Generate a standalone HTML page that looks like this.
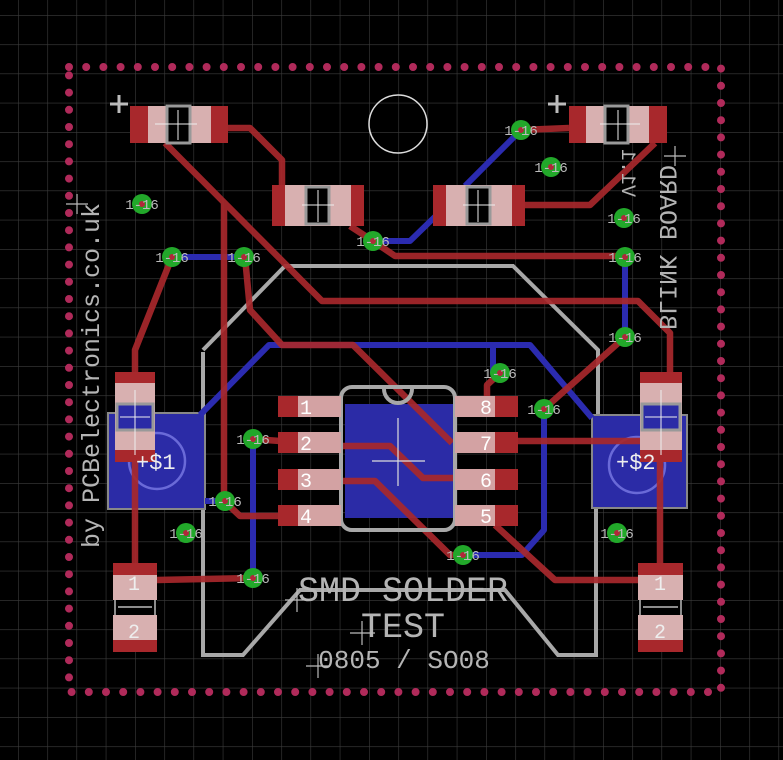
<!DOCTYPE html>
<html><head><meta charset="utf-8"><style>
html,body{margin:0;padding:0;background:#000;}
svg{display:block;}
text{font-family:"Liberation Mono",monospace;}
</style></head><body>
<svg width="783" height="760" viewBox="0 0 783 760" xmlns="http://www.w3.org/2000/svg">
<defs>
<pattern id="g" x="18" y="15" width="29.25" height="29.25" patternUnits="userSpaceOnUse">
<path d="M0 0H29.25M0 0V29.25" stroke="#3c3c3c" stroke-width="1.2" fill="none"/>
</pattern>
</defs>
<rect width="783" height="760" fill="#000"/>
<rect width="783" height="760" fill="url(#g)"/>

<rect x="69" y="67" width="652" height="625" fill="none" stroke="#b02a5a" stroke-width="8" stroke-dasharray="0 17.2" stroke-linecap="round"/>

<g fill="none" stroke="#a8a8a8" stroke-width="4">
<path d="M203 352 L203 655 L243 655 L300 590 L505 590 L558 655 L596 655 L596 508 M598 415 L598 350 L513 266 L285 266 L203 350"/>
<circle cx="398" cy="124" r="29" stroke="#ddd" stroke-width="1.5"/>
</g>

<g>
<rect x="108" y="413" width="97" height="96" fill="#2b2ba6" stroke="#888" stroke-width="2"/>
<rect x="592" y="415" width="95" height="93" fill="#2b2ba6" stroke="#888" stroke-width="2"/>
<circle cx="157" cy="461" r="28" fill="none" stroke="#6a6ad8" stroke-width="2.5"/>
<circle cx="637" cy="465" r="28" fill="none" stroke="#6a6ad8" stroke-width="2.5"/>
</g>

<g fill="none" stroke="#2b2bb0" stroke-width="6" stroke-linejoin="round">
<path d="M172 257 L242 257"/>
<path d="M200 415 L269 345 L530 345 L592 418"/>
<path d="M493 345 L493 373"/>
<path d="M544 409 L544 530 L522 555 L463 555"/>
<path d="M253 439 L253 578"/>
<path d="M205 501 L225 501"/>
<path d="M625 257 L625 337"/>
<path d="M373 241 L410 241 L445 207"/>
<path d="M465 186 L521 130"/>
</g>

<rect x="345" y="404" width="108" height="114" fill="#2b2ba6"/>

<g fill="none" stroke="#a8282c" stroke-width="6.5" stroke-linejoin="round" opacity="0.92">
<path d="M228 128 L250 128 L282 160 L282 186"/>
<path d="M165 143 L322 301 L638 301 L670 333 L670 372"/>
<path d="M224 203 L224 501 L240 516 L280 516"/>
<path d="M245 257 L250 310 L282 345 L353 345 L452 443"/>
<path d="M172 257 L135 350 L135 372"/>
<path d="M135 460 L135 565"/>
<path d="M157 580 L253 578"/>
<path d="M253 439 L280 441"/>
<path d="M341 446 L390 446 L423 478 L456 478"/>
<path d="M341 481 L375 481 L450 555 L463 555"/>
<path d="M495 525 L555 580 L640 580"/>
<path d="M518 441 L645 441"/>
<path d="M544 409 L625 337"/>
<path d="M660 460 L660 565"/>
<path d="M500 373 L487 385 L487 398"/>
<path d="M569 128 L521 130"/>
<path d="M525 205 L590 205 L655 143"/>
<path d="M350 226 L373 241 L395 256 L625 256"/>
</g>

<g fill="none" stroke="#a8a8a8" stroke-width="4">
<rect x="341" y="387" width="114" height="143" rx="11"/>
<path d="M384 389 A14 14 0 0 0 412 389"/>
</g>
<g stroke="#ddd" stroke-width="1.2"><path d="M398 418V486M372 461H425"/></g>

<g>
<g fill="#a8282c">
<rect x="278" y="396" width="63" height="21"/><rect x="278" y="432" width="63" height="21"/>
<rect x="278" y="469" width="63" height="21"/><rect x="278" y="505" width="63" height="21"/>
<rect x="455" y="396" width="63" height="21"/><rect x="455" y="432" width="63" height="21"/>
<rect x="455" y="469" width="63" height="21"/><rect x="455" y="505" width="63" height="21"/>
</g>
<g fill="#d8b0b0" opacity="0.9">
<rect x="298" y="396" width="43" height="21"/><rect x="298" y="432" width="43" height="21"/>
<rect x="298" y="469" width="43" height="21"/><rect x="298" y="505" width="43" height="21"/>
<rect x="455" y="396" width="40" height="21"/><rect x="455" y="432" width="40" height="21"/>
<rect x="455" y="469" width="40" height="21"/><rect x="455" y="505" width="40" height="21"/>
</g>
<g fill="#fff" font-size="20" text-anchor="middle">
<text x="306" y="414">1</text><text x="306" y="450">2</text><text x="306" y="487">3</text><text x="306" y="523">4</text>
<text x="486" y="414">8</text><text x="486" y="450">7</text><text x="486" y="487">6</text><text x="486" y="523">5</text>
</g>
</g>

<g>
<rect x="130" y="106" width="98" height="37" fill="#a8282c"/>
<rect x="148" y="106" width="63" height="37" fill="#d8b0b0"/>
<rect x="167" y="106" width="23" height="37" fill="#000" stroke="#999" stroke-width="3"/>
<path d="M155 124H197M178 110V140" stroke="#eee" stroke-width="1"/>
<rect x="569" y="106" width="98" height="37" fill="#a8282c"/>
<rect x="586" y="106" width="63" height="37" fill="#d8b0b0"/>
<rect x="605" y="106" width="23" height="37" fill="#000" stroke="#999" stroke-width="3"/>
<path d="M600 124H640M618 110V140" stroke="#eee" stroke-width="1"/>
<rect x="272" y="185" width="92" height="41" fill="#a8282c"/>
<rect x="285" y="185" width="66" height="41" fill="#d8b0b0"/>
<rect x="306" y="187" width="23" height="37" fill="#000" stroke="#999" stroke-width="3"/>
<path d="M302 205H334M318 190V222" stroke="#eee" stroke-width="1"/>
<rect x="433" y="185" width="92" height="41" fill="#a8282c"/>
<rect x="446" y="185" width="66" height="41" fill="#d8b0b0"/>
<rect x="467" y="187" width="23" height="37" fill="#000" stroke="#999" stroke-width="3"/>
<path d="M463 205H495M478 190V222" stroke="#eee" stroke-width="1"/>
</g>
<g stroke="#bbb" stroke-width="3"><path d="M110 104H128M119 95V113M548 104H566M557 95V113"/></g>

<g>
<rect x="115" y="372" width="40" height="90" fill="#a8282c"/>
<rect x="115" y="383" width="40" height="67" fill="#d8b0b0"/>
<rect x="117" y="404" width="36" height="26" fill="#2b2ba6" stroke="#999" stroke-width="3"/>
<path d="M120 417H150M135 390V455" stroke="#eee"/>
<rect x="640" y="372" width="42" height="90" fill="#a8282c"/>
<rect x="640" y="383" width="42" height="67" fill="#d8b0b0"/>
<rect x="642" y="404" width="38" height="26" fill="#2b2ba6" stroke="#999" stroke-width="3"/>
<path d="M645 417H677M661 390V455" stroke="#eee"/>

<rect x="113" y="563" width="44" height="89" fill="#a8282c"/>
<rect x="113" y="575" width="44" height="25" fill="#d8b0b0"/>
<rect x="113" y="615" width="44" height="25" fill="#d8b0b0"/>
<rect x="113" y="600" width="44" height="15" fill="#000"/>
<path d="M115 600V615M155 600V615M118 607H152" stroke="#bbb" stroke-width="1.5"/>
<rect x="638" y="563" width="45" height="89" fill="#a8282c"/>
<rect x="638" y="575" width="45" height="25" fill="#d8b0b0"/>
<rect x="638" y="615" width="45" height="25" fill="#d8b0b0"/>
<rect x="638" y="600" width="45" height="15" fill="#000"/>
<path d="M640 600V615M681 600V615M643 607H678" stroke="#bbb" stroke-width="1.5"/>
<g fill="#eee" font-size="20" text-anchor="middle">
<text x="134" y="590">1</text><text x="134" y="638">2</text>
<text x="660" y="590">1</text><text x="660" y="638">2</text>
</g>
</g>

<g fill="#eee" font-family="Liberation Sans,sans-serif" font-size="22">
<text x="136" y="469">+$1</text>
<text x="616" y="469">+$2</text>
</g>

<g>
<g fill="#22a82a">
<circle cx="142" cy="204" r="10"/><circle cx="172" cy="257" r="10"/><circle cx="244" cy="257" r="10"/>
<circle cx="373" cy="241" r="10"/><circle cx="521" cy="130" r="10"/><circle cx="551" cy="167" r="10"/>
<circle cx="624" cy="218" r="10"/><circle cx="625" cy="257" r="10"/><circle cx="625" cy="337" r="10"/>
<circle cx="500" cy="373" r="10"/><circle cx="544" cy="409" r="10"/><circle cx="253" cy="439" r="10"/>
<circle cx="225" cy="501" r="10"/><circle cx="186" cy="533" r="10"/><circle cx="253" cy="578" r="10"/>
<circle cx="463" cy="555" r="10"/><circle cx="617" cy="533" r="10"/>
</g>
<g fill="#b0283a">
<circle cx="142" cy="204" r="3"/><circle cx="172" cy="257" r="3"/><circle cx="244" cy="257" r="3"/>
<circle cx="373" cy="241" r="3"/><circle cx="521" cy="130" r="3"/><circle cx="551" cy="167" r="3"/>
<circle cx="624" cy="218" r="3"/><circle cx="625" cy="257" r="3"/><circle cx="625" cy="337" r="3"/>
<circle cx="500" cy="373" r="3"/><circle cx="544" cy="409" r="3"/><circle cx="253" cy="439" r="3"/>
<circle cx="225" cy="501" r="3"/><circle cx="186" cy="533" r="3"/><circle cx="253" cy="578" r="3"/>
<circle cx="463" cy="555" r="3"/><circle cx="617" cy="533" r="3"/>
</g>
<g fill="#bbb" font-size="14" text-anchor="middle" font-family="Liberation Sans,sans-serif">
<text x="142" y="209">1-16</text><text x="172" y="262">1-16</text><text x="244" y="262">1-16</text>
<text x="373" y="246">1-16</text><text x="521" y="135">1-16</text><text x="551" y="172">1-16</text>
<text x="624" y="223">1-16</text><text x="625" y="262">1-16</text><text x="625" y="342">1-16</text>
<text x="500" y="378">1-16</text><text x="544" y="414">1-16</text><text x="253" y="444">1-16</text>
<text x="225" y="506">1-16</text><text x="186" y="538">1-16</text><text x="253" y="583">1-16</text>
<text x="463" y="560">1-16</text><text x="617" y="538">1-16</text>
</g>
</g>

<g fill="#b4b4b4" text-anchor="middle">
<text x="403" y="601" font-size="35">SMD SOLDER</text>
<text x="403" y="637" font-size="35">TEST</text>
<text x="404" y="668" font-size="26">0805 / SO08</text>
</g>
<g stroke="#bbb" stroke-width="1.2"><path d="M285 600H310M297 588V612M350 633H375M362 621V645M306 666H330M318 654V678"/></g>
<text transform="translate(99,548) rotate(-90)" fill="#b4b4b4" font-size="25">by PCBelectronics.co.uk</text>
<text transform="matrix(0,-1,-1,0,660,330)" fill="#b4b4b4" font-size="25">BLINK BOARD</text>
<text transform="matrix(0,-1,-1,0,622,197)" fill="#b4b4b4" font-size="20">V1.1</text>
<g stroke="#bbb" stroke-width="1.2"><path d="M66 204H88M77 194V214M664 156H686M675 146V166"/></g>
</svg>
</body></html>
